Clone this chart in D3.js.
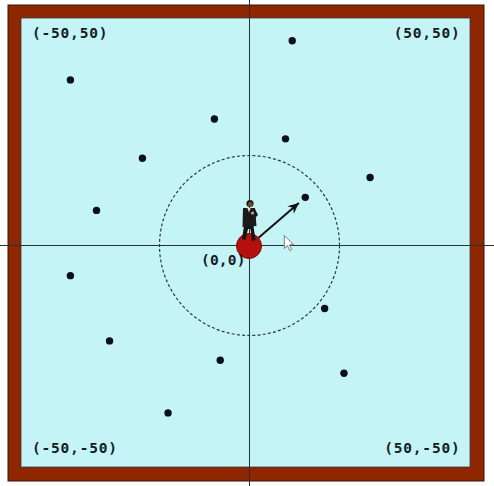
<!DOCTYPE html>
<html>
<head>
<meta charset="utf-8">
<script src="https://cdn.jsdelivr.net/npm/d3@7"></script>
<style>
  html, body { margin: 0; padding: 0; background: #ffffff; }
  svg { display: block; }
</style>
</head>
<body>
<svg id="chart" width="494" height="486"></svg>
<script>
// ---- data ----
const dotX = [9.5, -39.8, -7.8, 8.0, -23.8, 26.8, -34.0, 12.4, -39.8, 16.7, -31.1, -6.5, 21.0, -18.1];
const dotY = [45.5, 36.8, 28.1, 23.7, 19.4, 15.1, 7.8, 10.7, -6.7, -14.0, -21.2, -25.5, -28.4, -37.2];
const cornerX = [-50, 50, -50, 50];
const cornerY = [50, 50, -50, -50];
const originLabel = "(0,0)";
const rangeRadius = 20;      // dashed circle radius (data units)
const targetIndex = 7;       // dot the arrow points to

// ---- layout ----
const svg = d3.select("#chart");
const W = 494, H = 486;
const x = d3.scaleLinear().domain([-50, 50]).range([24.5, 474.5]);
const y = d3.scaleLinear().domain([50, -50]).range([20.5, 470.5]);
const ox = x(0), oy = y(0);

// frame
svg.append("rect").attr("x", 8).attr("y", 5).attr("width", 476).attr("height", 476)
  .attr("fill", "#8e2600").attr("stroke", "#3b1508").attr("stroke-width", 1);
svg.append("rect").attr("x", 21).attr("y", 18).attr("width", 449).attr("height", 449)
  .attr("fill", "#c5f4f6").attr("stroke", "#3a3a3a").attr("stroke-width", 0.8);

// axes through the origin
svg.append("line").attr("x1", 0).attr("x2", W).attr("y1", oy).attr("y2", oy)
  .attr("stroke", "#2a2f34").attr("stroke-width", 1);
svg.append("line").attr("x1", ox).attr("x2", ox).attr("y1", 0).attr("y2", H)
  .attr("stroke", "#2a2f34").attr("stroke-width", 1);

// dashed range circle
svg.append("circle").attr("cx", ox).attr("cy", oy)
  .attr("r", x(rangeRadius) - x(0))
  .attr("fill", "none").attr("stroke", "#2b3a48").attr("stroke-width", 1.2)
  .attr("stroke-dasharray", "3,2.2");

// dots
const pts = dotX.map((d, i) => ({x: d, y: dotY[i]}));
svg.selectAll("circle.dot").data(pts).enter().append("circle")
  .attr("class", "dot")
  .attr("cx", d => x(d.x)).attr("cy", d => y(d.y))
  .attr("r", 3.7).attr("fill", "#0b1018");

// red ball at origin
svg.append("circle").attr("cx", ox - 0.5).attr("cy", oy + 0.5).attr("r", 12.5)
  .attr("fill", "#b3100e").attr("stroke", "#7a0a08").attr("stroke-width", 1);

// person standing on the ball
const person = svg.append("g").attr("transform", `translate(${ox - 0.5},${oy + 0.5})`);
person.append("path").attr("d", "M-5,-20 L-7,-7 L-3.5,-6 L-1,-17 L1.5,-17 L3,-5 L6.5,-6 L4.5,-20 Z").attr("fill", "#141414");
person.append("path").attr("d", "M-6,-38 L6,-38 L7.5,-20 L-6.5,-19 Z").attr("fill", "#1b1b1b");
person.append("path").attr("d", "M6,-37 L9,-31 L6,-28 Z").attr("fill", "#1b1b1b");
person.append("path").attr("d", "M-1.6,-38 L1.6,-38 L0,-33.5 Z").attr("fill", "#e0e0e0");
person.append("circle").attr("cx", 1).attr("cy", -42.5).attr("r", 3.6).attr("fill", "#2a1810");
person.append("ellipse").attr("cx", 1.3).attr("cy", -41.5).attr("rx", 2.2).attr("ry", 2.4).attr("fill", "#7a4a34");
person.append("circle").attr("cx", 3.5).attr("cy", -33).attr("r", 1.6).attr("fill", "#c9a08a");

// arrow toward the target dot
const tgt = pts[targetIndex];
const dx = x(tgt.x) - ox, dy = y(tgt.y) - oy;
const len = Math.hypot(dx, dy);
const ux = dx / len, uy = dy / len;
const startD = 12, endD = len - 6.5;
const defs = svg.append("defs");
defs.append("marker").attr("id", "ah").attr("viewBox", "-12 -6 13 12")
  .attr("refX", 0).attr("refY", 0).attr("markerWidth", 13).attr("markerHeight", 12)
  .attr("markerUnits", "userSpaceOnUse").attr("orient", "auto")
  .append("path").attr("d", "M0,0 L-11,-5 L-7.5,0 L-11,5 Z").attr("fill", "#111");
svg.append("line")
  .attr("x1", ox + ux * startD).attr("y1", oy + uy * startD)
  .attr("x2", ox + ux * (endD - 2)).attr("y2", oy + uy * (endD - 2))
  .attr("stroke", "#111").attr("stroke-width", 2)
  .attr("marker-end", "url(#ah)");

// mouse cursor
svg.append("path")
  .attr("transform", "translate(284.3,235.5) scale(0.82)")
  .attr("d", "M0,0 L0,16 L3.8,12.3 L6.6,18.4 L9,17.3 L6.3,11.4 L11.3,11.4 Z")
  .attr("fill", "#ffffff").attr("stroke", "#6b6f73").attr("stroke-width", 1.1)
  .attr("stroke-linejoin", "round");

// labels
const fontFam = "'DejaVu Sans Mono', monospace";
const corners = cornerX.map((cx, i) => ({cx, cy: cornerY[i], text: `(${cx},${cornerY[i]})`}));
svg.selectAll("text.corner").data(corners).enter().append("text")
  .attr("class", "corner")
  .attr("x", d => d.cx < 0 ? x(d.cx) + 7.5 : x(d.cx) - 14)
  .attr("y", d => d.cy > 0 ? y(d.cy) + 17 : y(d.cy) - 17.5)
  .attr("text-anchor", d => d.cx < 0 ? "start" : "end")
  .attr("font-family", fontFam).attr("font-weight", "bold")
  .attr("font-size", 14.5).attr("letter-spacing", 0.8)
  .attr("fill", "#131d27")
  .text(d => d.text);

svg.append("text")
  .attr("x", ox - 48.5).attr("y", oy + 19.5)
  .attr("font-family", fontFam).attr("font-weight", "bold")
  .attr("font-size", 14.5).attr("letter-spacing", 0.2)
  .attr("fill", "#131d27")
  .text(originLabel);
</script>
</body>
</html>
